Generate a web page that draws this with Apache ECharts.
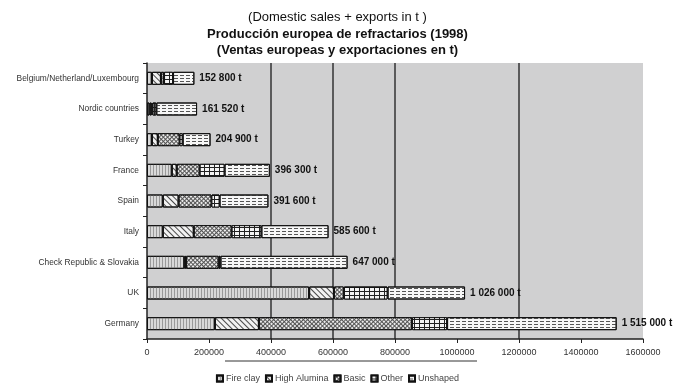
<!DOCTYPE html>
<html>
<head>
<meta charset="utf-8">
<script src="https://cdn.jsdelivr.net/npm/echarts@6/dist/echarts.min.js"></script>
<style>
  html, body { margin: 0; padding: 0; background: #fff; }
  #chart { width: 675px; height: 385px; }
</style>
</head>
<body>
<div id="chart"></div>
<script>
// Refractory production by country, 1998 (tonnes), listed bottom to top
const countries = ['Germany', 'UK', 'Check Republic & Slovakia', 'Italy', 'Spain', 'France', 'Turkey', 'Nordic countries', 'Belgium/Netherland/Luxembourg'];
const fireClay    = [219000, 523000, 120000,  51000,  51000,  80000, 16000,   8000, 16000];
const highAlumina = [142000,  80000,   6000, 100000,  51000,  16000, 19000,   6000, 29000];
const basic       = [494000,  32000, 105000, 122000, 106000,  74000, 70000,   4000, 10000];
const other       = [113000, 141000,   6000,  96000,  26000,  80000, 10000,  12000, 29000];
const unshaped    = [547000, 250000, 410000, 216600, 157600, 146300, 89900, 131520, 68800];
const seriesNames = ['Fire clay', 'High Alumina', 'Basic', 'Other', 'Unshaped'];
const xTicks = { min: 0, max: 1600000, step: 200000 };

const seriesData = [fireClay, highAlumina, basic, other, unshaped];

function total(i) {
  return seriesData.reduce((s, arr) => s + arr[i], 0);
}
function fmtTonnes(v) {
  return String(v).replace(/\B(?=(\d{3})+(?!\d))/g, ' ') + ' t';
}

// Monochrome fill patterns for the five product groups
const looks = [
  { color: '#d9d9d9', decal: { symbol: 'rect', symbolSize: 1, color: '#9a9a9a', dashArrayX: [1, 2], dashArrayY: [1, 0] } },
  { color: '#f2f2f2', decal: { symbol: 'rect', symbolSize: 1, color: '#4a4a4a', dashArrayX: [1, 0], dashArrayY: [1, 2.5], rotation: Math.PI / 4 } },
  { color: '#555555', decal: { symbol: 'rect', symbolSize: 1, color: '#ececec', dashArrayX: [2, 1], dashArrayY: [2, 1], rotation: Math.PI / 4 } },
  { color: '#222222', decal: { symbol: 'rect', symbolSize: 1, color: '#f4f4f4', dashArrayX: [4, 1], dashArrayY: [3, 1] } },
  { color: '#f7f7f7', decal: { symbol: 'rect', symbolSize: 1, color: '#555555', dashArrayX: [4, 2], dashArrayY: [1, 2] } }
];

const series = seriesNames.map((name, k) => ({
  name,
  type: 'bar',
  stack: 'total',
  barWidth: 13,
  data: seriesData[k],
  itemStyle: {
    color: looks[k].color,
    decal: looks[k].decal,
    borderColor: '#111',
    borderWidth: 1
  },
  label: k === seriesNames.length - 1 ? {
    show: true,
    position: 'right',
    distance: 5,
    color: '#111',
    fontSize: 10,
    fontWeight: 'bold',
    fontFamily: 'Liberation Sans',
    formatter: p => fmtTonnes(total(p.dataIndex))
  } : { show: false }
}));

const chart = echarts.init(document.getElementById('chart'), null, { renderer: 'canvas' });
chart.setOption({
  animation: false,
  backgroundColor: '#ffffff',
  textStyle: { fontFamily: 'Liberation Sans' },
  title: [
    { text: '(Domestic sales + exports in t )', left: 'center', top: 6,
      textStyle: { fontSize: 13, fontWeight: 'normal', color: '#111', fontFamily: 'Liberation Sans' } },
    { text: 'Producción europea de refractarios (1998)', left: 'center', top: 23,
      textStyle: { fontSize: 13, fontWeight: 'bold', color: '#111', fontFamily: 'Liberation Sans' } },
    { text: '(Ventas europeas y exportaciones en t)', left: 'center', top: 39,
      textStyle: { fontSize: 13, fontWeight: 'bold', color: '#111', fontFamily: 'Liberation Sans' } }
  ],
  grid: {
    left: 147, right: 32, top: 63, bottom: 46,
    show: true, backgroundColor: '#d0d0d1', borderWidth: 0
  },
  xAxis: {
    type: 'value',
    min: xTicks.min, max: xTicks.max, interval: xTicks.step,
    axisLine: { show: true, lineStyle: { color: '#222', width: 1.5 } },
    axisTick: { show: true, length: 4, lineStyle: { color: '#222' } },
    axisLabel: { color: '#333', fontSize: 9, margin: 9, formatter: v => String(v) },
    splitLine: {
      show: true,
      lineStyle: {
        width: 1.5,
        color: ['rgba(0,0,0,0)', 'rgba(0,0,0,0)', '#333', '#333', '#333', 'rgba(0,0,0,0)', '#333', 'rgba(0,0,0,0)', 'rgba(0,0,0,0)']
      }
    }
  },
  yAxis: {
    type: 'category',
    data: countries,
    axisLine: { show: true, lineStyle: { color: '#222', width: 1.5 } },
    axisTick: { show: true, length: 4, lineStyle: { color: '#222' } },
    axisLabel: { color: '#333', fontSize: 8.4, margin: 8 }
  },
  legend: {
    data: seriesNames,
    icon: 'rect',
    left: 'center',
    top: 369,
    itemWidth: 6, itemHeight: 6, itemGap: 5,
    textStyle: { fontSize: 9, color: '#444', padding: [0, 0, 0, -2] }
  },
  graphic: [
    { type: 'line', shape: { x1: 225, y1: 361, x2: 477, y2: 361 }, style: { stroke: '#333', lineWidth: 1 } }
  ],
  series
});
</script>
</body>
</html>
